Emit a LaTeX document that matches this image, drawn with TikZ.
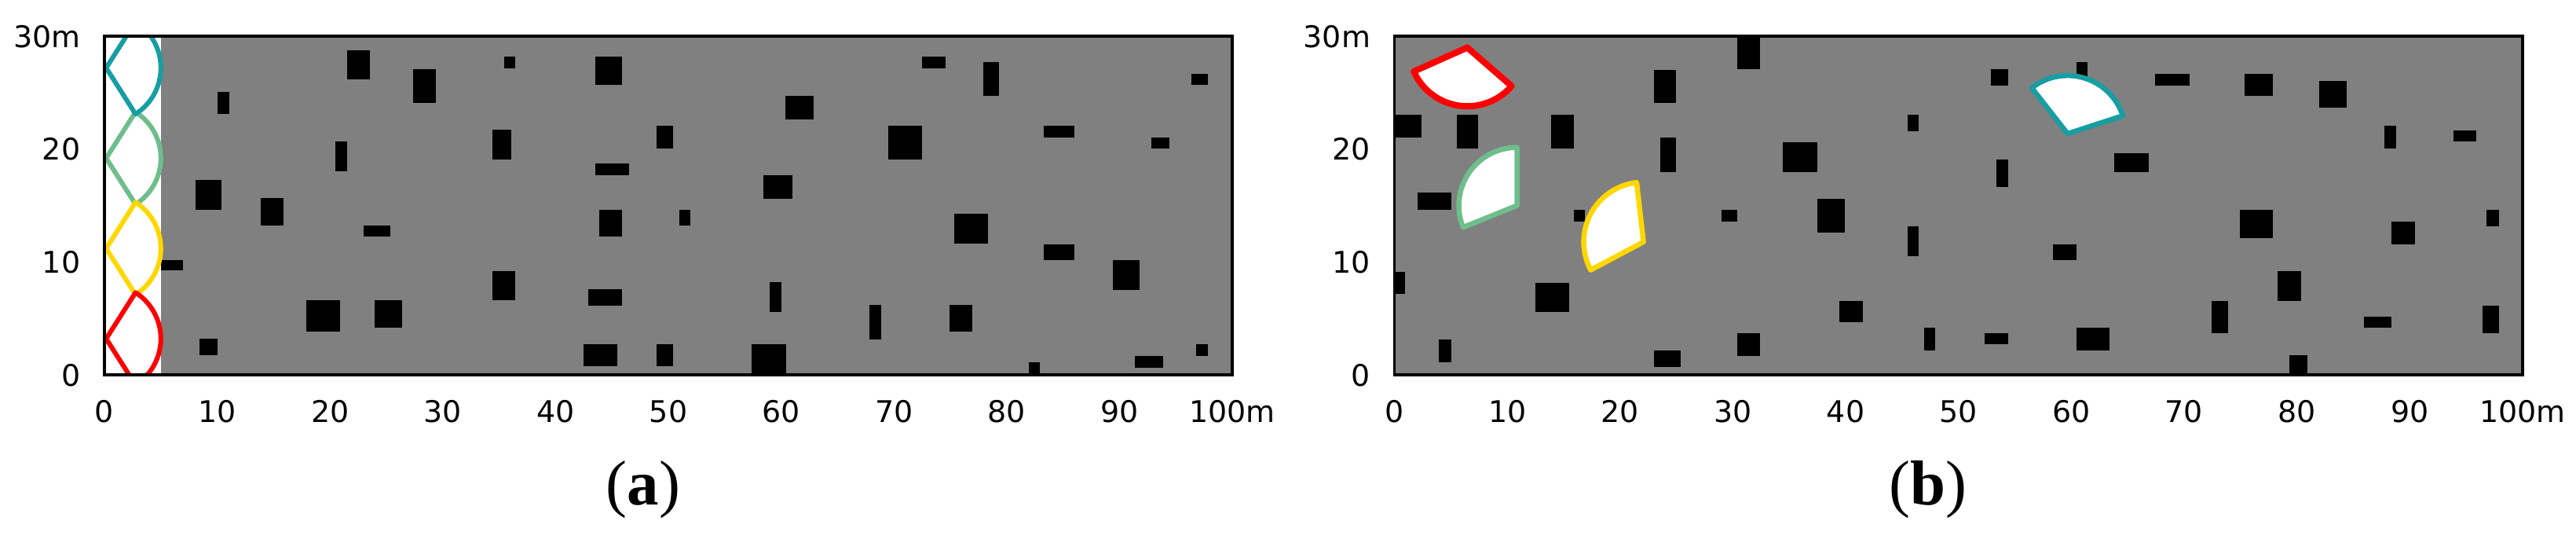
\documentclass[tikz,border=0pt]{standalone}
\usepackage{fontspec}
\setmainfont{DejaVu Sans}
\newfontfamily\capfont{Liberation Serif}
\definecolor{mapgray}{RGB}{128,128,128}
\definecolor{tealc}{RGB}{23,158,163}
\definecolor{greenc}{RGB}{110,190,140}
\definecolor{goldc}{RGB}{255,215,0}
\definecolor{redc}{RGB}{255,0,0}
\tikzset{
  frameline/.style={draw=black, line width=0.035cm},
  ticklbl/.style={font=\fontsize{10.8}{12}\selectfont, inner sep=0pt},
  xlbl/.style={ticklbl, anchor=base, yshift=-0.60cm},
  ylbl/.style={ticklbl, anchor=base east, xshift=-0.30cm, yshift=-0.14cm},
  caplbl/.style={font=\capfont\fontsize{23}{26}\selectfont, inner sep=0pt, anchor=base},
  fova/.style={line width=0.06cm, fill=white, line join=round},
  fovb/.style={line width=0.065cm, fill=white, line join=round},
}
\begin{document}
\begin{tikzpicture}
\useasboundingbox (0,0) rectangle (32.8,7.04);

% ---------------- panel (a) ----------------
\begin{scope}[shift={(1.33,2.27)}, x=0.1436cm, y=0.1436cm]
  \fill[mapgray] (4.98,0) rectangle (100,30);
  \foreach \a/\b/\c/\d in {
    21.5/26.15/23.55/28.75, 27.4/24.1/29.4/27.1, 35.45/27.15/36.45/28.2,
    10.0/23.1/11.05/25.1, 20.5/18.05/21.5/20.7, 34.4/19.1/36.05/21.7,
    8.05/14.65/10.4/17.25, 13.85/13.25/15.85/15.65, 22.95/12.25/25.35/13.25,
    4.98/9.25/6.95/10.2, 34.4/6.6/36.45/9.2, 17.9/3.8/20.9/6.6,
    23.95/4.2/26.4/6.6, 8.4/1.75/10.0/3.2,
    43.5/25.7/45.9/28.2, 72.5/27.15/74.55/28.2, 77.95/24.7/79.35/27.75,
    60.4/22.65/62.85/24.75, 48.95/20.05/50.4/22.1, 69.5/19.05/72.5/22.1,
    83.3/21.05/86.0/22.05, 43.5/17.7/46.5/18.7, 58.4/15.6/61.0/17.7,
    43.9/12.25/45.9/14.65, 50.95/13.25/51.95/14.65, 75.35/11.6/78.35/14.25,
    83.3/10.2/86.0/11.55, 42.9/6.15/45.9/7.6, 59.0/5.55/60.0/8.2,
    67.85/3.15/68.9/6.2, 74.9/3.8/76.95/6.2, 42.5/0.75/45.5/2.75,
    48.95/0.75/50.4/2.75, 57.4/0/60.45/2.75, 81.95/0/82.95/1.1,
    96.4/25.7/97.85/26.65, 92.8/20.05/94.45/21.05, 89.4/7.55/91.8/10.15,
    96.8/1.7/97.85/2.7, 91.35/0.65/93.85/1.65}
    \fill[black] (\a,\b) rectangle (\c,\d);
  \begin{scope}
    \clip (0,0) rectangle (100,30);
    \draw[fova, draw=greenc] (0.15,19.2) -- ++(-57.5:4.85) arc[start angle=-57.5, end angle=57.5, radius=4.85] -- cycle;
    \draw[fova, draw=tealc]  (0.15,27.2) -- ++(-57.5:4.85) arc[start angle=-57.5, end angle=57.5, radius=4.85] -- cycle;
    \draw[fova, draw=goldc]  (0.15,11.2) -- ++(-57.5:4.85) arc[start angle=-57.5, end angle=57.5, radius=4.85] -- cycle;
    \draw[fova, draw=redc]   (0.15,3.2)  -- ++(-57.5:4.85) arc[start angle=-57.5, end angle=57.5, radius=4.85] -- cycle;
  \end{scope}
  \draw[frameline] (0,0) rectangle (100,30);
  \foreach \v in {0,10,...,90} \node[xlbl] (ax\v) at (\v,0) {\v};
  \node[xlbl] (ax100) at (100,0) {100m};
  \node[ylbl] (ay0) at (0,0) {0};
  \node[ylbl] (ay10) at (0,10) {10};
  \node[ylbl] (ay20) at (0,20) {20};
  \node[ylbl] (ay30) at (0,30) {30m};
\end{scope}

% ---------------- panel (b) ----------------
\begin{scope}[shift={(17.757,2.27)}, x=0.1436cm, y=0.1436cm]
  \fill[mapgray] (0,0) rectangle (100,30);
  \foreach \a/\b/\c/\d in {
    30.4/27.1/32.4/30, 23.0/24.1/24.95/27.05, 0/21.05/2.4/23.05,
    5.5/20.05/7.4/23.05, 13.9/20.05/15.9/23.05, 23.55/18.0/24.95/21.0,
    34.45/18.0/37.45/20.6, 45.5/21.6/46.5/23.05, 2.05/14.65/5.0/16.15,
    15.9/13.6/16.9/14.65, 29.0/13.6/30.4/14.65, 37.45/12.6/39.9/15.6,
    45.5/10.55/46.5/13.15, 0/7.15/0.95/9.1, 12.5/5.55/15.5/8.15,
    39.4/4.7/41.5/6.55, 3.95/1.1/5.0/3.15, 30.4/1.7/32.4/3.7,
    23.0/0.7/25.35/2.15, 46.95/2.15/47.9/4.15,
    52.9/25.65/54.4/27.1, 60.45/26.35/61.45/27.7, 67.45/25.65/70.5/26.65,
    75.35/24.7/77.9/26.65, 81.95/23.7/84.4/26.05, 87.75/20.05/88.8/22.05,
    93.9/20.65/95.9/21.65, 63.8/18.0/66.85/19.65, 53.35/16.65/54.4/19.05,
    74.95/12.15/77.9/14.65, 96.8/13.15/97.9/14.65, 88.4/11.55/90.45/13.6,
    58.4/10.15/60.45/11.55, 78.3/6.55/80.4/9.2, 72.45/3.7/73.9/6.55,
    85.95/4.15/88.4/5.15, 96.45/3.7/97.9/6.15, 52.35/2.7/54.4/3.7,
    60.45/2.15/63.4/4.15, 79.35/0/80.95/1.75}
    \fill[black] (\a,\b) rectangle (\c,\d);
  \draw[fovb, draw=redc, line width=0.08cm] (6.45,29.0) -- ++(-156:5.2) arc[start angle=-156, end angle=-41, radius=5.2] -- cycle;
  \draw[fovb, draw=greenc] (10.85,15.0) -- ++(90:5.15) arc[start angle=90, end angle=202, radius=5.15] -- cycle;
  \draw[fovb, draw=goldc]  (22.07,11.78) -- ++(96.6:5.3) arc[start angle=96.6, end angle=208, radius=5.3] -- cycle;
  \draw[fovb, draw=tealc]  (59.67,21.37) -- ++(18:5.15) arc[start angle=18, end angle=128, radius=5.15] -- cycle;
  \draw[frameline] (0,0) rectangle (100,30);
  \foreach \v in {0,10,...,90} \node[xlbl] (bx\v) at (\v,0) {\v};
  \node[xlbl] (bx100) at (100,0) {100m};
  \node[ylbl] (by0) at (0,0) {0};
  \node[ylbl] (by10) at (0,10) {10};
  \node[ylbl] (by20) at (0,20) {20};
  \node[ylbl] (by30) at (0,30) {30m};
\end{scope}

\node[caplbl] (capa) at (8.19,0.62) {(\textbf{a})};
\node[caplbl] (capb) at (24.55,0.62) {(\textbf{b})};
\end{tikzpicture}
\end{document}
